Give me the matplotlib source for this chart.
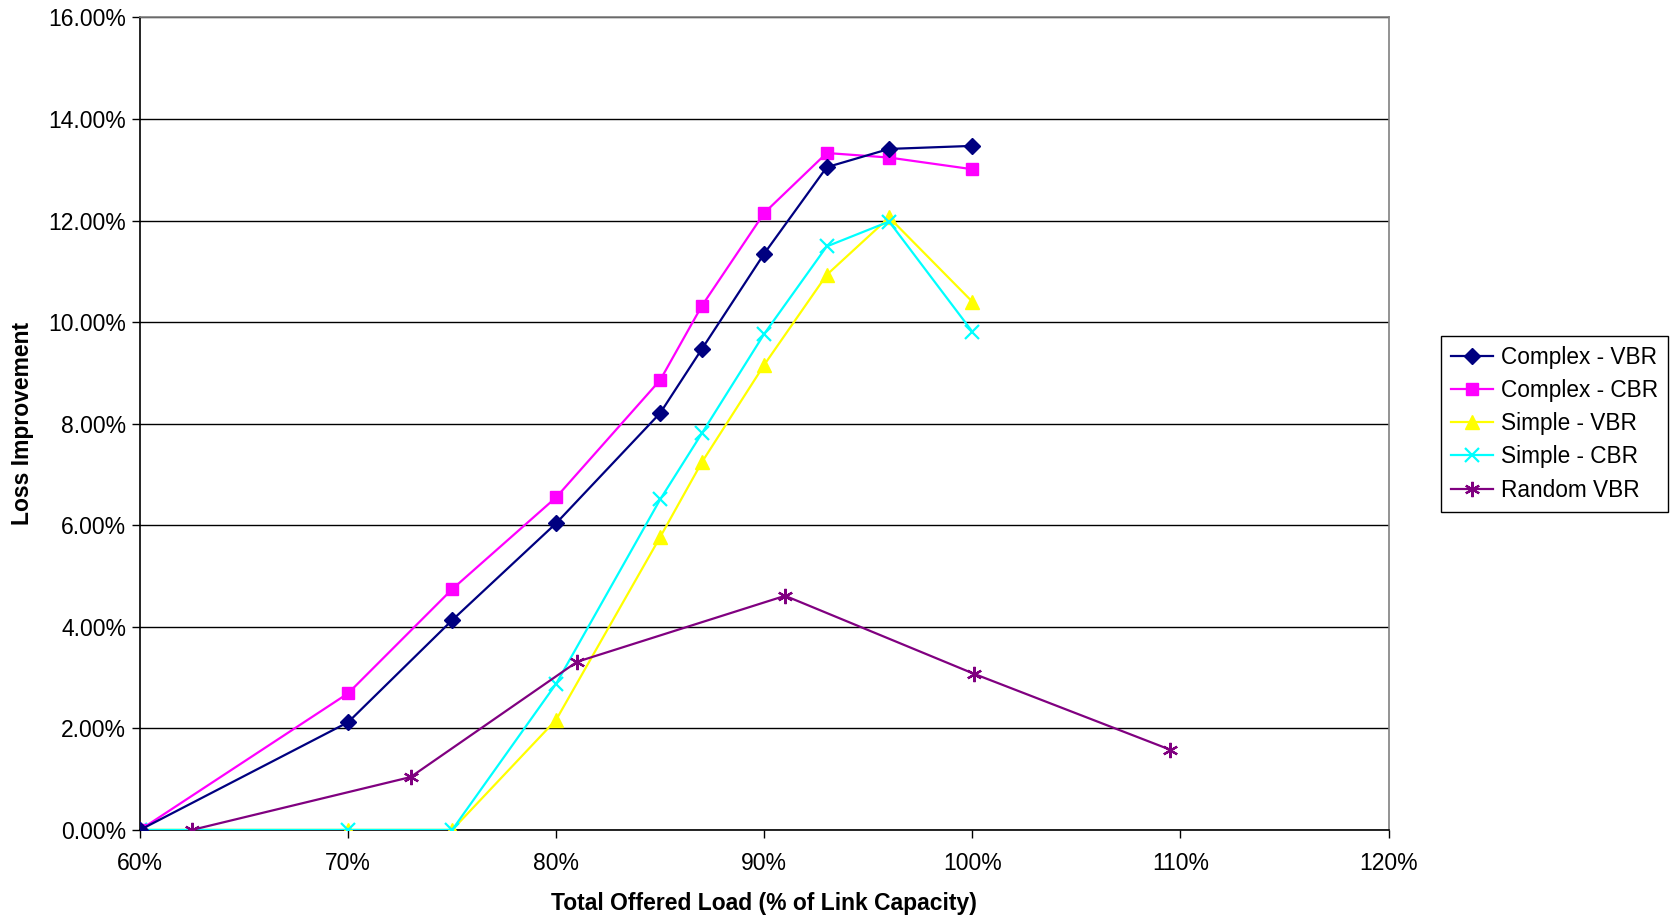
import matplotlib
matplotlib.use("Agg")
import matplotlib.pyplot as plt
from matplotlib.ticker import FuncFormatter, MultipleLocator

plt.rcParams['font.family'] = ['Liberation Sans', 'DejaVu Sans']

x_main = [60, 70, 75, 80, 85, 87, 90, 93, 96, 100]
complex_vbr = [0.0, 2.12, 4.13, 6.04, 8.21, 9.47, 11.35, 13.05, 13.41, 13.47]
complex_cbr = [0.0, 2.69, 4.74, 6.55, 8.86, 10.32, 12.15, 13.33, 13.24, 13.01]
simple_vbr = [0.0, 0.0, 0.0, 2.17, 5.77, 7.24, 9.16, 10.93, 12.06, 10.40]
simple_cbr = [0.0, 0.0, 0.0, 2.88, 6.51, 7.81, 9.77, 11.49, 11.98, 9.81]
x_random = [62.5, 73, 81, 91, 100.1, 109.5]
random_vbr = [0.0, 1.04, 3.31, 4.61, 3.07, 1.58]

fig = plt.figure(figsize=(16.77, 9.16), dpi=100)
ax = fig.add_axes([0.0835, 0.094, 0.7445, 0.887])

ax.plot(x_main, complex_vbr, color='#000080', marker='D', markersize=8, lw=1.6, label='Complex - VBR', zorder=5)
ax.plot(x_main, complex_cbr, color='#FF00FF', marker='s', markersize=9, lw=1.6, label='Complex - CBR', zorder=4)
ax.plot(x_main, simple_vbr, color='#FFFF00', marker='^', markersize=9.5, lw=1.6, label='Simple - VBR', zorder=3)
ax.plot(x_main, simple_cbr, color='#00FFFF', marker='x', markersize=9.5, mew=1.6, lw=1.6, label='Simple - CBR', zorder=3)
ax.plot(x_random, random_vbr, color='#800080', marker=(6, 2, 0), markersize=11, mew=1.6, lw=1.6, label='Random VBR', zorder=3)

ax.set_xlim(60, 120)
ax.set_ylim(0, 16)
ax.xaxis.set_major_locator(MultipleLocator(10))
ax.yaxis.set_major_locator(MultipleLocator(2))
ax.xaxis.set_major_formatter(FuncFormatter(lambda v, p: f"{v:.0f}%"))
ax.yaxis.set_major_formatter(FuncFormatter(lambda v, p: f"{v:.2f}%"))
ax.grid(axis='y', color='black', lw=1.0)
ax.set_axisbelow(True)
for s in ['top', 'right']:
    ax.spines[s].set_color('#808080')
    ax.spines[s].set_linewidth(1.2)
for s in ['left', 'bottom']:
    ax.spines[s].set_color('black')
    ax.spines[s].set_linewidth(1.2)
ax.tick_params(axis='both', direction='out', length=6, width=1, labelsize=16.5)
ax.tick_params(axis='x', pad=10)
ax.tick_params(axis='y', pad=4)

ax.set_xlabel('Total Offered Load (% of Link Capacity)', fontsize=16.5, fontweight='bold', labelpad=12)
ax.set_ylabel('Loss Improvement', fontsize=16.5, fontweight='bold', labelpad=10)

leg = ax.legend(loc='center left', bbox_to_anchor=(1.042, 0.5), frameon=True, fontsize=16.3,
                fancybox=False, edgecolor='black', framealpha=1, borderpad=0.45,
                handlelength=1.85, handletextpad=0.35, labelspacing=0.45, borderaxespad=0)
leg.get_frame().set_linewidth(1.0)

fig.savefig('out.png', dpi=100)
